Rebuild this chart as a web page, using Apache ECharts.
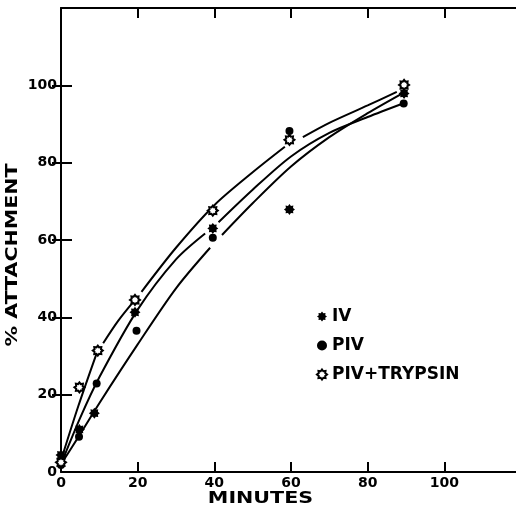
<!DOCTYPE html>
<html>
<head>
<meta charset="utf-8">
<script src="https://cdn.jsdelivr.net/npm/echarts@6/dist/echarts.min.js"></script>
<style>html,body{margin:0;padding:0;background:#fff}#c{width:516px;height:507px}</style>
</head>
<body>
<div id="c"></div>
<script>
// ---- data ----
const xTickValues = [0, 20, 40, 60, 80, 100];
const yTickValues = [0, 20, 40, 60, 80, 100];
const seriesNames = ['IV', 'PIV', 'PIV+TRYPSIN'];

const minutesIV = [0, 4.8, 8.7, 19.3, 39.6, 59.6, 89.5];
const attachIV  = [4.4, 11.0, 15.2, 41.3, 63.0, 67.9, 97.9];
const minutesPIV = [0, 4.7, 9.3, 19.7, 39.6, 59.6, 89.4];
const attachPIV  = [1.8, 9.1, 22.9, 36.5, 60.6, 88.2, 95.3];
const minutesTryp = [0, 4.8, 9.6, 19.3, 39.6, 59.6, 89.5];
const attachTryp  = [2.5, 21.9, 31.4, 44.5, 67.6, 85.9, 100.1];

// hand-drawn fitted curves (null = pen lifted near a point)
const curveTrypX = [0, 4.5, 9.3, 10, 11, 15, 19.3, 20, 21, 30, 40, 50, 58.4, 60, 63.1, 70, 80, 87.6];
const curveTrypY = [3, 17, 30.7, null, 33.3, 39.2, 44.5, null, 46.6, 58, 69, 77.5, 84.1, null, 86.6, 90.3, 94.8, 98.3];
const curvePIVX = [0, 5, 10, 20, 30, 37.6, 39, 41.1, 50, 60, 70, 80, 89.2];
const curvePIVY = [2, 14, 24.5, 42, 55, 61.7, null, 64.6, 73, 81.6, 87.7, 91.8, 95.3];
const curveIVX = [0, 5, 10, 20, 30, 38.9, 40, 42, 50, 60, 70, 80, 89.2];
const curveIVY = [2, 9.8, 17.8, 33, 47.5, 58, null, 61.3, 69.5, 79, 86.6, 92.8, 98];

const pair = (xs, ys) => xs.map((x, i) => [x, ys[i] === null ? '-' : ys[i]]);

const STAR = 'path://M10 0L12.68 3.53L17.07 2.93L16.47 7.32L20 10L16.47 12.68L17.07 17.07L12.68 16.47L10 20L7.32 16.47L2.93 17.07L3.53 12.68L0 10L3.53 7.32L2.93 2.93L7.32 3.53Z';
const FONT = '"DejaVu Sans", sans-serif';

const chart = echarts.init(document.getElementById('c'), null, {renderer: 'canvas'});

const lineStyle = {color: '#000', width: 2};
const tickStyle = {color: '#000', width: 2};
const xAxisCommon = {
  type: 'value', min: 0, max: 118.7,
  splitLine: {show: false},
  axisLine: {show: true, onZero: false, lineStyle: {color: '#000', width: 2}},
};
const yAxisCommon = {
  type: 'value', min: 0, max: 120,
  splitLine: {show: false},
  axisLine: {show: true, onZero: false, lineStyle: {color: '#000', width: 2}},
};

function curve(name, xs, ys) {
  return {
    name: name, type: 'line', data: pair(xs, ys), smooth: 0.3, connectNulls: false,
    showSymbol: false, symbol: 'none', lineStyle: lineStyle, silent: true, z: 2,
    xAxisIndex: 0, yAxisIndex: 0
  };
}

chart.setOption({
  animation: false,
  backgroundColor: '#fff',
  grid: {left: 61, top: 8, right: 0, height: 464, containLabel: false},
  xAxis: [
    Object.assign({}, xAxisCommon, {
      position: 'bottom',
      axisTick: {show: true, inside: true, length: 10, lineStyle: tickStyle, customValues: xTickValues},
      axisLabel: {show: true, margin: 4, color: '#000', fontWeight: 'bold', fontSize: 14, fontFamily: FONT, customValues: xTickValues}
    }),
    Object.assign({}, xAxisCommon, {
      position: 'top',
      axisTick: {show: true, inside: true, length: 10, lineStyle: tickStyle, customValues: xTickValues},
      axisLabel: {show: false}
    })
  ],
  yAxis: [
    Object.assign({}, yAxisCommon, {
      position: 'left',
      axisTick: {show: true, inside: true, length: 11, lineStyle: tickStyle, customValues: yTickValues},
      axisLabel: {show: true, margin: 4, color: '#000', fontWeight: 'bold', fontSize: 14, fontFamily: FONT, customValues: yTickValues}
    }),
    Object.assign({}, yAxisCommon, {
      position: 'right',
      axisLine: {show: false},
      axisTick: {show: true, inside: true, length: 9, lineStyle: tickStyle, customValues: yTickValues.slice(1)},
      axisLabel: {show: false}
    })
  ],
  legend: {
    orient: 'vertical', left: 311, top: 303, itemGap: 12, itemWidth: 10, itemHeight: 10,
    textStyle: {color: '#000', fontWeight: 'bold', fontSize: 17, fontFamily: FONT},
    selectedMode: false,
    data: [
      {name: seriesNames[0], icon: STAR, itemStyle: {color: '#000', borderWidth: 0}},
      {name: seriesNames[1], icon: 'circle', itemStyle: {color: '#000', borderWidth: 0}},
      {name: seriesNames[2], icon: STAR, itemStyle: {color: '#fff', borderColor: '#000', borderWidth: 2}}
    ]
  },
  series: [
    curve('curveTryp', curveTrypX, curveTrypY),
    curve('curvePIV', curvePIVX, curvePIVY),
    curve('curveIV', curveIVX, curveIVY),
    {
      name: seriesNames[0], type: 'scatter', data: pair(minutesIV, attachIV),
      symbol: STAR, symbolSize: 11, itemStyle: {color: '#000', opacity: 1}, z: 5
    },
    {
      name: seriesNames[1], type: 'scatter', data: pair(minutesPIV, attachPIV),
      symbol: 'circle', symbolSize: 8, itemStyle: {color: '#000', opacity: 1}, z: 5
    },
    {
      name: seriesNames[2], type: 'scatter', data: pair(minutesTryp, attachTryp),
      symbol: STAR, symbolSize: 10, itemStyle: {color: '#fff', borderColor: '#000', borderWidth: 2, opacity: 1}, z: 6
    }
  ],
  graphic: [
    {type: 'text', x: 13, y: 255, rotation: Math.PI / 2, scaleX: 1.37, silent: true,
     style: {text: '% ATTACHMENT', font: 'bold 15px ' + FONT, fill: '#000', align: 'center', verticalAlign: 'middle'}},
    {type: 'text', x: 260.5, y: 498.5, scaleX: 1.29, silent: true,
     style: {text: 'MINUTES', font: 'bold 16px ' + FONT, fill: '#000', align: 'center', verticalAlign: 'middle'}}
  ]
});
</script>
</body>
</html>
